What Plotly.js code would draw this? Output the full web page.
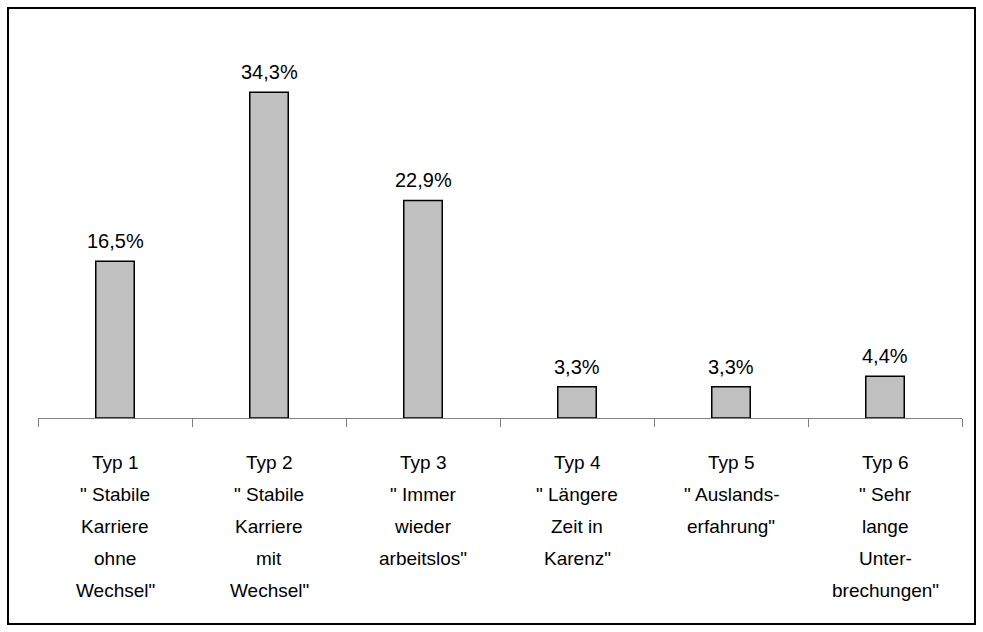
<!DOCTYPE html>
<html>
<head>
<meta charset="utf-8">
<script src="https://cdn.plot.ly/plotly-3.0.1.min.js"></script>
<style>
html,body{margin:0;padding:0;background:#fff;}
#chart{width:983px;height:632px;}
</style>
</head>
<body>
<div id="chart"></div>
<script>
// ---- data ----
const categories = ['Typ 1', 'Typ 2', 'Typ 3', 'Typ 4', 'Typ 5', 'Typ 6'];
const values = [16.5, 34.3, 22.9, 3.3, 3.3, 4.4];
const labelLines = [
  ['Typ 1', '" Stabile', 'Karriere', 'ohne', 'Wechsel"'],
  ['Typ 2', '" Stabile', 'Karriere', 'mit', 'Wechsel"'],
  ['Typ 3', '" Immer', 'wieder', 'arbeitslos"'],
  ['Typ 4', '" Längere', 'Zeit in', 'Karenz"'],
  ['Typ 5', '" Auslands-', 'erfahrung"'],
  ['Typ 6', '" Sehr', 'lange', 'Unter-', 'brechungen"']
];

const FONT = 'Liberation Sans, Arial, sans-serif';
const fmt = v => v.toFixed(1).replace('.', ',') + '%';

const annotations = [];
values.forEach((v, i) => {
  annotations.push({
    x: categories[i], y: v, xref: 'x', yref: 'y',
    text: fmt(v), showarrow: false, yanchor: 'bottom', yshift: 7,
    font: {family: FONT, size: 20, color: '#000'}
  });
});
labelLines.forEach((lines, i) => {
  lines.forEach((t, j) => {
    annotations.push({
      x: categories[i], y: 0, xref: 'x', yref: 'y',
      text: t, showarrow: false, yanchor: 'middle', yshift: -(44 + 32 * j),
      font: {family: FONT, size: 19, color: '#000'}
    });
  });
});

const trace = {
  type: 'bar',
  x: categories,
  y: values,
  width: 0.25,
  marker: {color: '#C0C0C0', line: {color: '#000', width: 1.5}},
  hoverinfo: 'none'
};

const layout = {
  width: 983, height: 632,
  margin: {l: 38, r: 21, t: 85, b: 214},
  paper_bgcolor: '#fff', plot_bgcolor: '#fff',
  showlegend: false,
  font: {family: FONT, size: 19, color: '#000'},
  xaxis: {
    type: 'category',
    showline: true, linecolor: '#808080', linewidth: 1,
    ticks: 'outside', tickson: 'boundaries', ticklen: 8, tickcolor: '#808080', tickwidth: 1,
    showticklabels: false, showgrid: false, zeroline: false, fixedrange: true
  },
  yaxis: {
    range: [0, 35.05], visible: false, showgrid: false, zeroline: false, fixedrange: true
  },
  annotations: annotations,
  shapes: [{
    type: 'rect', xref: 'paper', yref: 'paper',
    x0: -30 / 924, x1: 937 / 924, y0: -206 / 333, y1: 410 / 333,
    line: {color: '#000', width: 2}, fillcolor: 'rgba(0,0,0,0)', layer: 'below'
  }]
};

Plotly.newPlot('chart', [trace], layout, {staticPlot: true, displayModeBar: false});
</script>
</body>
</html>
